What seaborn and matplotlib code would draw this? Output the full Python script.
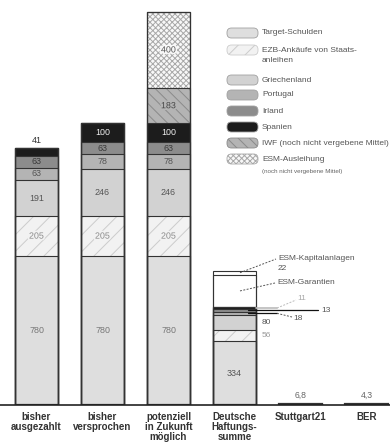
import matplotlib
matplotlib.use("Agg")
import matplotlib.pyplot as plt
import matplotlib.patheffects as pe
from matplotlib.patches import FancyBboxPatch
import numpy as np
import seaborn as sns

sns.set_theme(style="white")
plt.rcParams["font.family"] = ["Liberation Sans", "DejaVu Sans"]
plt.rcParams["hatch.linewidth"] = 0.7

# ---- data (Mrd. Euro) ----
categories = ["bisher\nausgezahlt", "bisher\nversprochen",
              "potenziell\nin Zukunft\nmöglich", "Deutsche\nHaftungs-\nsumme",
              "Stuttgart21", "BER"]
projekte       = [0, 0, 0, 0, 6.8, 4.3]
target         = [780, 780, 780, 334, 0, 0]
ezb            = [205, 205, 205, 56, 0, 0]
griechenland   = [191, 246, 246, 80, 0, 0]
portugal       = [63, 78, 78, 18, 0, 0]
irland         = [63, 63, 63, 13, 0, 0]
spanien        = [41, 100, 100, 11, 0, 0]
iwf            = [0, 0, 183, 0, 0, 0]
esm_ausleihung = [0, 0, 400, 0, 0, 0]
esm_garantien  = [0, 0, 0, 168, 0, 0]
esm_kapital    = [0, 0, 0, 22, 0, 0]
projekt_labels = ["6,8", "4,3"]

# series: (values, face colour, hatch, hatch colour, label colour)
layers = [
    (projekte,       "#222222", None,     "#222222", "#666666"),
    (target,         "#dedede", None,     "#dedede", "#777777"),
    (ezb,            "#f2f2f2", "//",     "#cccccc", "#8a8a8a"),
    (griechenland,   "#d2d2d2", None,     "#d2d2d2", "#555555"),
    (portugal,       "#b4b4b4", None,     "#b4b4b4", "#555555"),
    (irland,         "#8c8c8c", None,     "#8c8c8c", "#3a3a3a"),
    (spanien,        "#1c1c1c", None,     "#1c1c1c", "#f0f0f0"),
    (iwf,            "#b4b4b4", "\\\\\\", "#8a8a8a", "#444444"),
    (esm_ausleihung, "#f8f8f8", "xxxxxx", "#a8a8a8", "#555555"),
    (esm_garantien,  "#ffffff", None,     "#ffffff", "#555555"),
    (esm_kapital,    "#ffffff", None,     "#ffffff", "#555555"),
]

W, H = 390, 444
fig = plt.figure(figsize=(W / 100, H / 100), dpi=100)
base_px, top_px = 405, 0
scale = 0.1914          # px per unit
x0_px, step_px = 36.5, 66.0
ax = fig.add_axes([0, (H - base_px) / H, 1, (base_px - top_px) / H])

def px2x(px):
    return (px - x0_px) / step_px

def py2y(py):
    return (base_px - py) / scale

vals = np.array([l[0] for l in layers], dtype=float)
cum = np.cumsum(vals, axis=0)
bw = 0.65

# fills, drawn from the highest cumulative level down
for k in range(len(layers) - 1, -1, -1):
    _, fc, hatch, hc, _ = layers[k]
    sns.barplot(x=categories, y=cum[k], color=fc, saturation=1, width=bw,
                errorbar=None, edgecolor=hc, linewidth=0, hatch=hatch, ax=ax)
# outlines
for k in range(len(layers)):
    sns.barplot(x=categories, y=cum[k], fill=False, color="#333333", saturation=1,
                width=bw, errorbar=None, linewidth=0.8 if k else 1.6, ax=ax)

ax.set_xlim(px2x(0), px2x(W))
ax.set_ylim(0, py2y(top_px))
for s in ["left", "right", "top"]:
    ax.spines[s].set_visible(False)
ax.spines["bottom"].set_color("#222222")
ax.spines["bottom"].set_linewidth(1.2)
ax.set_yticks([])
ax.tick_params(axis="x", length=0, pad=5)
for lbl in ax.get_xticklabels():
    lbl.set_fontweight("bold")
    lbl.set_fontsize(7)
    lbl.set_color("#333333")
    lbl.set_linespacing(1.0)

# value labels in the first three stacks
for k in range(1, len(layers)):
    v, fc, hatch, hc, tc = layers[k]
    for i in range(3):
        if v[i] <= 0:
            continue
        mid = cum[k][i] - v[i] / 2
        halo = [pe.withStroke(linewidth=2.5, foreground=fc)] if hatch else None
        if i == 0 and k == 6:
            ax.annotate(f"{v[i]:g}", (i, cum[k][i]), xytext=(0, 2),
                        textcoords="offset points", ha="center", va="bottom",
                        fontsize=6.5, color="#333333")
            continue
        if v[i] < 60:
            continue
        ax.text(i, mid, f"{v[i]:g}", ha="center", va="center", fontsize=6.4,
                color=tc, path_effects=halo)

# Deutsche Haftungssumme: labels and leader lines
j = 3
def mid4(k):
    return cum[k][j] - vals[k][j] / 2
edge = j + bw / 2
fs = 6
ax.text(j, mid4(1), f"{target[j]:g}", ha="center", va="center", fontsize=6.4, color="#555555")
ax.text(px2x(262), mid4(2), f"{ezb[j]:g}", ha="left", va="center", fontsize=fs, color="#999999")
ax.text(px2x(262), mid4(3), f"{griechenland[j]:g}", ha="left", va="center", fontsize=fs, color="#555555")

dash = (0, (2, 1.5))
# Portugal
ax.plot([px2x(248), px2x(277)], [mid4(4)] * 2, color="#111111", lw=0.9)
ax.plot([px2x(277), px2x(292)], [mid4(4), py2y(317)], color="#555555", lw=0.7, ls=dash)
ax.text(px2x(293), py2y(318), f"{portugal[j]:g}", ha="left", va="center", fontsize=fs, color="#555555")
# Irland
ax.plot([px2x(248), px2x(318)], [mid4(5)] * 2, color="#111111", lw=0.9)
ax.text(px2x(321), mid4(5), f"{irland[j]:g}", ha="left", va="center", fontsize=fs, color="#555555")
# Spanien
ax.plot([edge, px2x(277)], [mid4(6)] * 2, color="#bbbbbb", lw=1.2)
ax.plot([px2x(277), px2x(296)], [mid4(6), py2y(300)], color="#bbbbbb", lw=0.7, ls=dash)
ax.text(px2x(297), py2y(299), f"{spanien[j]:g}", ha="left", va="center", fontsize=fs, color="#aaaaaa")
# ESM
ax.plot([px2x(240), px2x(275)], [mid4(9), py2y(283)], color="#555555", lw=0.7, ls=dash)
ax.text(px2x(277), py2y(283), "ESM-Garantien", ha="left", va="center", fontsize=fs, color="#555555")
ax.plot([px2x(240), px2x(276)], [mid4(10), py2y(259)], color="#555555", lw=0.7, ls=dash)
ax.text(px2x(278), py2y(258), "ESM-Kapitalanlagen", ha="left", va="center", fontsize=fs, color="#555555")
ax.text(px2x(278), py2y(269), f"{esm_kapital[j]:g}", ha="left", va="center", fontsize=fs, color="#555555")

# project labels
for i, t in zip([4, 5], projekt_labels):
    ax.annotate(t, (i, projekte[i]), xytext=(0, 3), textcoords="offset points",
                ha="center", va="bottom", fontsize=6.2, color="#666666")

# legend in pixel coordinates
lg = fig.add_axes([0, 0, 1, 1], zorder=5)
lg.set_xlim(0, W)
lg.set_ylim(H, 0)
lg.axis("off")
lg.patch.set_alpha(0)
legend_rows = [
    (["Target-Schulden"], 1, 33),
    (["EZB-Ankäufe von Staats-", "anleihen"], 2, 50),
    (["Griechenland"], 3, 80),
    (["Portugal"], 4, 95),
    (["Irland"], 5, 111),
    (["Spanien"], 6, 127),
    (["IWF (noch nicht vergebene Mittel)"], 7, 143),
    (["ESM-Ausleihung"], 8, 159),
]
for lines, k, yc in legend_rows:
    _, fc, hatch, hc, _ = layers[k]
    ec = hc if hatch else "#a0a0a0"
    box = FancyBboxPatch((227, yc - 5), 31, 10,
                         boxstyle="round,pad=0,rounding_size=4.5",
                         facecolor=fc, edgecolor=ec, hatch=hatch, lw=0.6)
    lg.add_patch(box)
    for n, line in enumerate(lines):
        lg.text(262, yc + 11 * n, line, ha="left", va="center",
                fontsize=6, color="#555555", clip_on=False)
lg.text(262, 171, "(noch nicht vergebene Mittel)", ha="left", va="center",
        fontsize=4.5, color="#666666")

fig.savefig("out.png", dpi=100)
